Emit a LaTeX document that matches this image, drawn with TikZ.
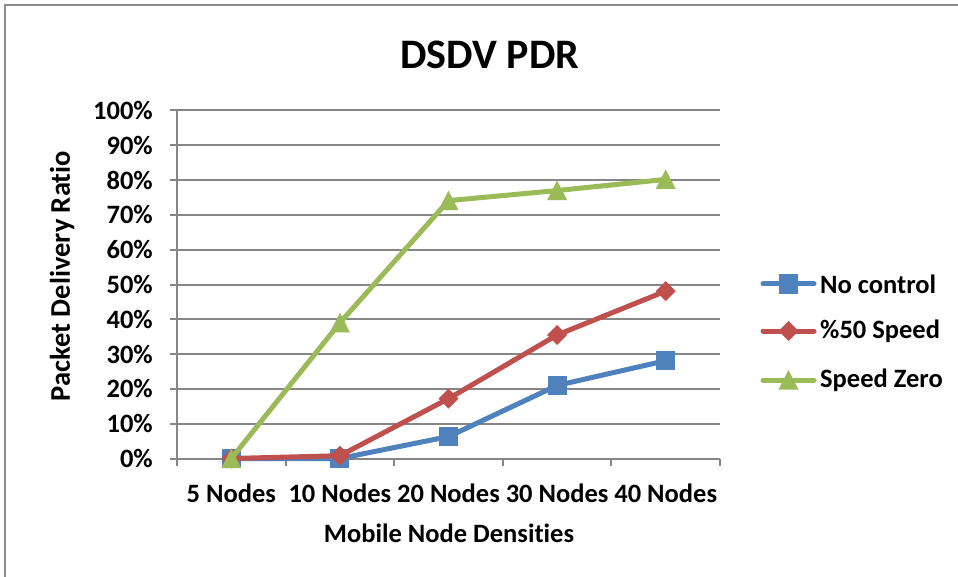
\documentclass[tikz,border=0pt]{standalone}
\usepackage{fontspec}
\setmainfont{Carlito}[Ligatures=NoCommon]
\definecolor{seriesA}{HTML}{4F81BD}
\definecolor{seriesB}{HTML}{C0504D}
\definecolor{seriesC}{HTML}{9BBB59}
\definecolor{gridgray}{HTML}{868686}
\definecolor{framegray}{HTML}{8C8C8C}
\begin{document}
\begin{tikzpicture}[x=1pt,y=-1pt,
  lbl/.style={font=\fontsize{26.5}{30}\bfseries\selectfont, inner sep=0pt},
  ttl/.style={font=\fontsize{42}{46}\bfseries\selectfont, inner sep=0pt},
  gridline/.style={draw=gridgray, line width=2pt},
  serieslinestyle/.style={line width=5pt, line join=round},
  pics/sqmark/.style={code={\fill[#1] (-9.5,-9.5) rectangle (9.5,9.5);}},
  pics/dmmark/.style={code={\fill[#1] (-10,0) -- (0,-10) -- (10,0) -- (0,10) -- cycle;}},
  pics/trmark/.style={code={\fill[#1] (-10,9.5) -- (10,9.5) -- (0,-10) -- cycle;}},
]
\useasboundingbox (0,0) rectangle (958,577);
\fill[white] (0,0) rectangle (958,577);
% chart frame (top and left edges)
\draw[framegray, line width=1.5pt] (5,577) -- (5,5) -- (958,5);

% title
\node[ttl] (title) at (490,55) {DSDV PDR};

% horizontal gridlines and value labels
\foreach \v in {0,10,...,100} {
  \draw[gridline] (170,{458.5-3.48*\v}) -- (720,{458.5-3.48*\v});
  \node[lbl, anchor=east] (ylab\v) at (153,{458.5-3.48*\v}) {\v\%};
}
% axes
\draw[gridline] (177,110.5) -- (177,458.5);
\coordinate (xa0) at (177,458.5);
\coordinate (xa1) at (720,458.5);
\draw[gridline] (xa0) -- (xa1);
\foreach \i in {0,...,5} {
  \draw[gridline] ({177+108.6*\i},458.5) -- ({177+108.6*\i},466);
}

% category labels
\foreach \lab [count=\i] in {5 Nodes,10 Nodes,20 Nodes,30 Nodes,40 Nodes} {
  \node[lbl] (xlab\i) at ({177+108.6*(\i-0.5)},493) {\lab};
}

% axis titles
\node[lbl] (xtitle) at (449,533) {Mobile Node Densities};
\node[lbl, font=\fontsize{28.5}{32}\bfseries\selectfont, rotate=90] (ytitle) at (62,276) {Packet Delivery Ratio};

% data points
\foreach \s/\vals in {a/{0,0,6.3,21,28.1}, b/{0,0.8,17.2,35.5,48.1}, c/{0,39,74.1,77,80.2}} {
  \foreach \v [count=\i] in \vals {
    \coordinate (\s\i) at ({177+108.6*(\i-0.5)},{458.5-3.48*\v});
  }
}

% series: No control
\draw[serieslinestyle, seriesA] (a1) -- (a2) -- (a3) -- (a4) -- (a5);
\foreach \i in {1,...,5} \pic at (a\i) {sqmark=seriesA};
% series: %50 Speed
\draw[serieslinestyle, seriesB] (b1) -- (b2) -- (b3) -- (b4) -- (b5);
\foreach \i in {1,...,5} \pic at (b\i) {dmmark=seriesB};
% series: Speed Zero
\draw[serieslinestyle, seriesC] (c1) -- (c2) -- (c3) -- (c4) -- (c5);
\foreach \i in {1,...,5} \pic at (c\i) {trmark=seriesC};

% legend
\foreach \s/\col/\mk/\txt/\y in {a/seriesA/sqmark/No control/284, b/seriesB/dmmark/\%50 Speed/331, c/seriesC/trmark/Speed Zero/380} {
  \coordinate (leg\s L) at (763,\y);
  \coordinate (leg\s R) at (814,\y);
  \coordinate (leg\s M) at (788.5,\y);
  \draw[serieslinestyle, line cap=round, \col] (leg\s L) -- (leg\s R);
  \pic at (leg\s M) {\mk=\col};
  \node[lbl, anchor=west] (legtxt\s) at (820,\y) {\txt};
}
\end{tikzpicture}
\end{document}
